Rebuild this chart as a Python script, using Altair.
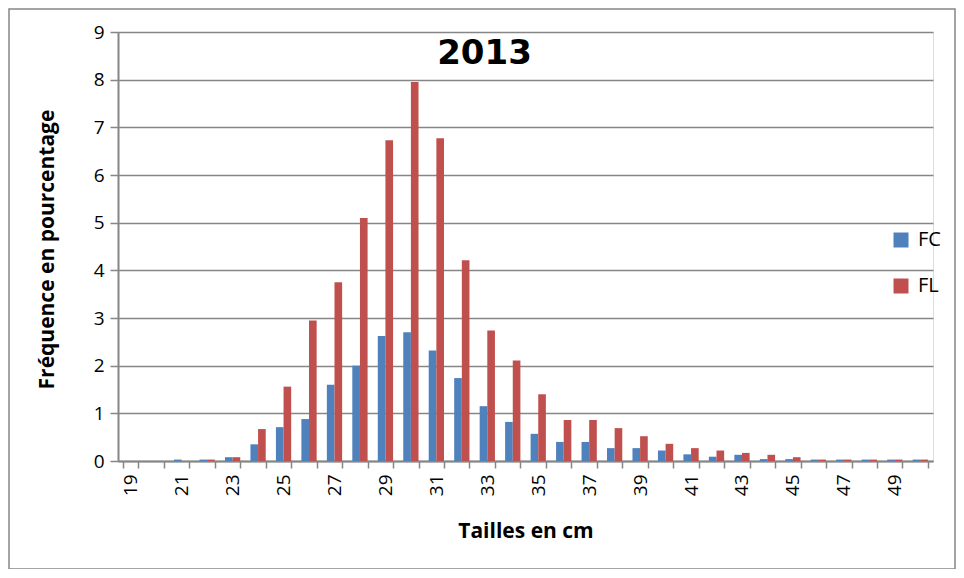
import altair as alt
import pandas as pd

tailles = list(range(19, 51))
fc = [0, 0, 0.03, 0.03, 0.08, 0.35, 0.71, 0.88, 1.6, 2.0, 2.62, 2.7, 2.32, 1.74, 1.15,
      0.82, 0.57, 0.4, 0.4, 0.27, 0.27, 0.22, 0.14, 0.09, 0.13, 0.04, 0.04, 0.03, 0.03,
      0.03, 0.03, 0.03]
fl = [0, 0, 0, 0.03, 0.08, 0.67, 1.56, 2.95, 3.75, 5.1, 6.73, 7.95, 6.77, 4.21, 2.74,
      2.11, 1.4, 0.86, 0.86, 0.69, 0.52, 0.36, 0.27, 0.22, 0.17, 0.13, 0.08, 0.03, 0.03,
      0.03, 0.03, 0.03]
series = ["FC", "FL"]
colors = ["#4F81BD", "#C0504D"]
y_ticks = list(range(0, 10))

rows = []
for t, a, b in zip(tailles, fc, fl):
    rows.append({"taille": t, "serie": "FC", "freq": a})
    rows.append({"taille": t, "serie": "FL", "freq": b})
df = pd.DataFrame(rows)

FONT = "Open Sans"
GRAY = "#868686"
W, H = 815, 429

bars = alt.Chart(df).mark_bar().encode(
    x=alt.X(
        "taille:O",
        title="Tailles en cm",
        scale=alt.Scale(paddingInner=0.4, paddingOuter=0.2),
        axis=alt.Axis(
            labelAngle=270,
            labelExpr="datum.value % 2 == 1 ? datum.label : ''",
            tickBand="extent",
            tickSize=7,
            tickColor=GRAY,
            tickWidth=1.5,
            domainColor=GRAY,
            domainWidth=2,
            labelFont=FONT,
            labelFontSize=19,
            labelColor="#000000",
            labelPadding=6,
            titleFont=FONT,
            titleFontSize=21,
            titleFontWeight="bold",
            titleColor="#000000",
            titleX=W / 2,
            titleY=70,
            titleBaseline="middle",
            titleAlign="center",
        ),
    ),
    xOffset=alt.XOffset("serie:N", sort=series),
    y=alt.Y(
        "freq:Q",
        title="Fréquence en pourcentage",
        scale=alt.Scale(domain=[0, 9], nice=False),
        axis=alt.Axis(
            values=y_ticks,
            format="d",
            grid=True,
            gridColor=GRAY,
            gridWidth=1.5,
            tickSize=8,
            tickColor=GRAY,
            tickWidth=1.5,
            domainColor=GRAY,
            domainWidth=2,
            labelFont=FONT,
            labelFontSize=19,
            labelColor="#000000",
            labelPadding=6,
            titleFont=FONT,
            titleFontSize=21,
            titleFontWeight="bold",
            titleColor="#000000",
            titleAngle=270,
            titleX=-71,
            titleY=217,
            titleBaseline="middle",
            titleAlign="center",
        ),
    ),
    color=alt.Color(
        "serie:N",
        scale=alt.Scale(domain=series, range=colors),
        legend=alt.Legend(
            title=None,
            orient="none",
            legendX=773,
            legendY=198,
            symbolType="square",
            symbolSize=225,
            symbolStrokeWidth=0,
            labelFont=FONT,
            labelFontSize=20,
            labelColor="#000000",
            labelOffset=7,
            rowPadding=26,
        ),
    ),
)

border = alt.Chart(pd.DataFrame({"a": [0]})).mark_rect(
    fill="transparent", stroke=GRAY, strokeWidth=1.5
).encode(
    x=alt.value(-109), x2=alt.value(837), y=alt.value(-23), y2=alt.value(537)
)

chart = alt.layer(border, bars).properties(
    width=W,
    height=H,
    title=alt.TitleParams(
        text="2013",
        font="DejaVu Sans",
        fontSize=34,
        fontWeight="bold",
        color="#000000",
        anchor="middle",
        orient="top",
        baseline="alphabetic",
        offset=-45,
        dx=-41,
        dy=45,
    ),
    autosize=alt.AutoSizeParams(type="none"),
    padding={"left": 110, "top": 24, "right": 23, "bottom": 108},
).configure_view(stroke=None).configure(background="white")

chart.save("out.html", embed_options={"renderer": "svg", "actions": False})
